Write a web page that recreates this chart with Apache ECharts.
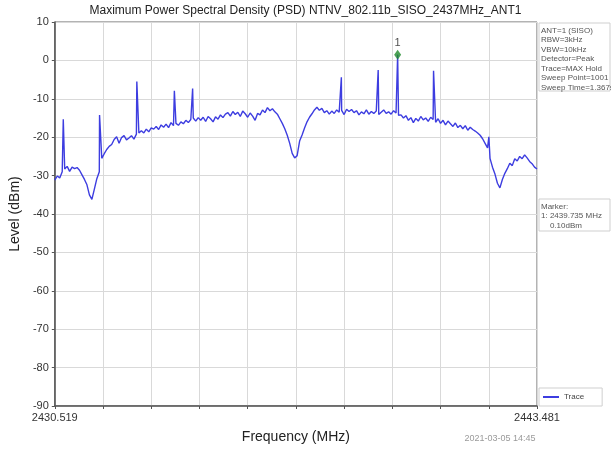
<!DOCTYPE html>
<html>
<head>
<meta charset="utf-8">
<script src="https://cdn.jsdelivr.net/npm/echarts@6/dist/echarts.min.js"></script>
<style>
  html, body { margin: 0; padding: 0; background: #fff; }
  #chart { width: 611px; height: 452px; }
</style>
</head>
<body>
<div id="chart"></div>
<script>
// sweep span (MHz)
const startFreq = 2430.519
const stopFreq = 2443.481

// trace level (dBm) on an even sweep grid
const traceLevels = [
  -31.2, -30.1, -30.6, -29.0, -28.3, -27.6, -28.9, -27.8, -28.2, -27.9,
  -28.6, -29.8, -31.0, -32.4, -35.0, -36.2, -33.5, -30.8, -29.0, -25.5,
  -24.3, -23.2, -22.4, -21.9, -20.6, -19.9, -21.6, -20.1, -19.6, -20.7,
  -20.2, -19.6, -20.5, -19.2, -18.9, -18.3, -18.9, -17.9, -18.6, -17.6,
  -17.9, -17.2, -18.0, -16.8, -17.4, -16.6, -17.5, -16.2, -17.0, -16.4,
  -16.9, -16.0, -16.5, -15.6, -16.2, -15.4, -15.0, -15.8, -14.9, -15.6,
  -14.8, -15.9, -14.6, -15.2, -16.0, -14.7, -15.3, -14.2, -14.9, -14.0,
  -13.6, -14.5, -13.3, -14.1, -13.5, -14.6, -13.2, -13.9, -14.8, -13.7,
  -14.5, -15.6, -13.8, -14.2, -12.9, -13.6, -12.3, -13.1, -12.6, -13.4,
  -14.0, -15.2, -16.4, -17.8, -19.5, -21.6, -24.2, -25.4, -24.8, -21.0,
  -19.4, -17.6, -16.0, -14.8, -13.9, -12.9, -12.2, -13.0, -12.5, -13.6,
  -13.1, -14.0, -13.2, -13.8, -12.9, -13.5, -13.0, -14.1, -12.7, -13.3,
  -12.8, -13.6, -13.1, -14.2, -13.4, -13.9, -12.9, -14.0, -13.3, -13.8,
  -13.2, -14.1, -13.5, -12.9, -13.8, -13.4, -14.0, -13.1, -13.7, -14.3,
  -14.2, -15.0, -14.4, -15.6, -14.9, -16.2, -15.1, -15.8, -14.6, -15.5,
  -15.0, -15.9, -14.8, -15.4, -16.1, -15.2, -16.4, -15.6, -16.8, -15.8,
  -16.5, -17.2, -16.3, -17.5, -16.9, -17.8, -17.0, -18.2, -17.4, -18.0,
  -18.4, -18.9, -19.5, -20.4, -21.6, -22.8, -25.5, -27.8, -29.6, -32.0,
  -33.2, -31.0, -29.4, -28.2, -26.8, -27.4, -25.6, -26.2, -25.0, -25.6,
  -24.6, -25.4, -26.3, -26.9, -27.8, -28.3
]

// narrow spurs on top of the trace
const spikeFreqs = [2430.747, 2431.722, 2432.724, 2433.733, 2434.224, 2438.222, 2439.212, 2439.735, 2440.700, 2442.187]
const spikeLevels = [-15.3, -14.2, -5.5, -7.9, -7.3, -4.4, -2.5, 1.5, -2.7, -19.9]

// marker 1
const markerFreqs = [2439.735]
const markerLevels = [1.5]

const xTickLabels = ['2430.519', '2443.481']
const yTicks = [10, 0, -10, -20, -30, -40, -50, -60, -70, -80, -90]

let chart = echarts.init(document.getElementById('chart'))

// x axis runs as offset from start so the 10 grid divisions line up
const span = stopFreq - startFreq
const step = span / (traceLevels.length - 1)
let pts = traceLevels.map((v, i) => [i * step, v])
spikeFreqs.forEach((f, i) => pts.push([f - startFreq, spikeLevels[i]]))
pts.sort((a, b) => a[0] - b[0])

const font = '"Liberation Sans", Arial, sans-serif'

chart.setOption({
  animation: false,
  textStyle: { fontFamily: font },
  grid: {
    left: 49, right: 74, top: 22, bottom: 46,
    show: true, borderColor: '#666', borderWidth: 1
  },
  legend: {
    data: ['Trace'],
    left: 539, top: 388,
    orient: 'vertical',
    icon: 'rect', itemWidth: 16, itemHeight: 2,
    borderColor: '#cfcfcf', borderWidth: 1,
    padding: [5, 18, 5, 4],
    textStyle: { fontSize: 8, color: '#444', fontFamily: font }
  },
  xAxis: {
    type: 'value',
    min: 0, max: span, interval: span / 10,
    name: 'Frequency (MHz)',
    nameLocation: 'middle', nameGap: 24,
    nameTextStyle: { fontSize: 14, color: '#222', fontFamily: font },
    axisLine: { onZero: false, lineStyle: { color: '#555', width: 1.5 } },
    axisTick: { show: true, length: 3, lineStyle: { color: '#555' } },
    axisLabel: {
      fontSize: 11, color: '#333', margin: 6,
      formatter: function (v, idx) {
        if (idx === 0) return xTickLabels[0]
        if (v > span - 1e-6) return xTickLabels[1]
        return ''
      }
    },
    splitLine: { show: true, lineStyle: { color: '#d9d9d9' } }
  },
  yAxis: {
    type: 'value',
    min: -90, max: 10, interval: 10,
    name: 'Level (dBm)',
    nameLocation: 'middle', nameGap: 30, nameRotate: 90,
    nameTextStyle: { fontSize: 14, color: '#222', fontFamily: font },
    axisLine: { show: true, onZero: false, lineStyle: { color: '#555', width: 1.5 } },
    axisTick: { show: true, length: 3, lineStyle: { color: '#555' } },
    axisLabel: {
      fontSize: 11, color: '#333', margin: 6,
      formatter: v => yTicks.includes(v) ? String(v) : ''
    },
    splitLine: { show: true, lineStyle: { color: '#d9d9d9' } }
  },
  series: [
    {
      name: 'Trace',
      type: 'line',
      data: pts,
      showSymbol: false,
      color: '#3d3de0',
      lineStyle: { color: '#3d3de0', width: 1.4 },
      z: 3
    },
    {
      name: 'Marker',
      type: 'scatter',
      data: markerFreqs.map((f, i) => [f - startFreq, markerLevels[i]]),
      symbol: 'diamond',
      symbolSize: [7, 10],
      itemStyle: { color: '#1f8a2a' },
      label: { show: true, position: 'top', distance: 1, formatter: '1', fontSize: 11, color: '#222' },
      z: 5
    }
  ],
  graphic: [
    {
      type: 'text', left: 'center', top: 5,
      style: { text: 'Maximum Power Spectral Density (PSD) NTNV_802.11b_SISO_2437MHz_ANT1', fontSize: 12, fill: '#222', font: '12px ' + font }
    },
    {
      type: 'rect', shape: { x: 539, y: 23, width: 71, height: 68 },
      style: { fill: '#fff', stroke: '#cfcfcf', lineWidth: 1 }
    },
    {
      type: 'text', x: 541, y: 26,
      style: {
        text: 'ANT=1 (SISO)\nRBW=3kHz\nVBW=10kHz\nDetector=Peak\nTrace=MAX Hold\nSweep Point=1001\nSweep Time=1.367s',
        font: '8px ' + font, lineHeight: 9.5, fill: '#555'
      }
    },
    {
      type: 'rect', shape: { x: 539, y: 199, width: 71, height: 32 },
      style: { fill: '#fff', stroke: '#cfcfcf', lineWidth: 1 }
    },
    {
      type: 'text', x: 541, y: 202,
      style: {
        text: 'Marker:\n1: 2439.735 MHz\n    0.10dBm',
        font: '8px ' + font, lineHeight: 9.5, fill: '#555'
      }
    },
    {
      type: 'text', x: 500, y: 434,
      style: { text: '2021-03-05 14:45', font: '9px ' + font, fill: '#9a9a9a', textAlign: 'center' }
    }
  ]
})
</script>
</body>
</html>
